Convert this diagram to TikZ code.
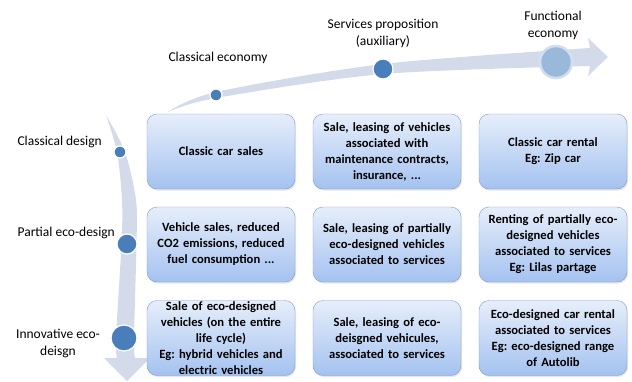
\documentclass[tikz,border=0pt]{standalone}
\usepackage{fontspec}
\setmainfont{Carlito}
\usetikzlibrary{positioning,shadows}

\definecolor{bandcol}{RGB}{211,219,234}
\definecolor{dotcol}{RGB}{74,126,187}
\definecolor{boxtop}{RGB}{230,238,250}
\definecolor{boxbot}{RGB}{164,194,240}
\definecolor{boxline}{RGB}{125,154,208}

\tikzset{
	cell/.style={rounded corners=10pt,draw=boxline,top color=boxtop,bottom color=boxbot,
		minimum width=148pt,minimum height=75pt,inner sep=0pt,text width=146pt,align=center,
		font=\frenchspacing\bfseries\fontsize{12.6}{16}\selectfont,
		drop shadow={opacity=0.2,shadow xshift=1pt,shadow yshift=-1.5pt}},
	lbl/.style={font=\fontsize{13.5}{17}\selectfont,inner sep=0pt},
	dot/.style={circle,fill=dotcol,draw=white,line width=1.2pt,inner sep=0pt}
}

\begin{document}
\begin{tikzpicture}[x=1pt,y=-1pt]

\useasboundingbox (0,0) rectangle (632,381);

%%%%%%%%%%%%%%%%%%%%%%%%%%%%%%%%%%%%%%%%%%%%%%%%%%%%%%%%%%%%%%%%
% bands

\fill [bandcol] plot [smooth] coordinates {(168,112) (216,92) (383,64) (590,48)}
	-- (588,38) -- (608,57) -- (588,76) -- (590,66)
	-- plot [smooth] coordinates {(590,66) (383,74) (216,98) (168,112)} -- cycle;

\fill [bandcol] plot [smooth] coordinates {(106,115) (117,152) (122,200) (121.5,244) (116,338) (117,358)}
	-- (104,358) -- (127,381) -- (150,358) -- (135,358)
	-- plot [smooth] coordinates {(135,358) (134,338) (136.5,244) (136,200) (125,152) (106,115)} -- cycle;

%%%%%%%%%%%%%%%%%%%%%%%%%%%%%%%%%%%%%%%%%%%%%%%%%%%%%%%%%%%%%%%%
% dots

\node [dot,minimum size=12pt] at (216,95) (e1) {};
\node [dot,minimum size=20pt] at (383,69) (e2) {};
\node [circle,fill={rgb,255:red,154;green,184;blue,218},draw={rgb,255:red,208;green,223;blue,240},
	line width=2.5pt,minimum size=32pt,inner sep=0pt] at (556,62) (e3) {};

\node [dot,minimum size=12pt] at (120,152) (d1) {};
\node [dot,minimum size=20pt] at (127,244) (d2) {};
\node [dot,minimum size=26pt] at (124,338) (d3) {};

%%%%%%%%%%%%%%%%%%%%%%%%%%%%%%%%%%%%%%%%%%%%%%%%%%%%%%%%%%%%%%%%
% labels

\node [lbl] at (218,58) (l1) {Classical economy};
\node [lbl,align=center] at (383,33) (l2) {Services proposition\\(auxiliary)};
\node [lbl,align=center] at (553,25) (l3) {Functional\\economy};

\node [lbl,anchor=east] at (102,142) (r1) {Classical design};
\node [lbl,anchor=east] at (115,233) (r2) {Partial eco-design};
\node [lbl,align=center] at (58,343) (r3) {Innovative eco-\\deisgn};

%%%%%%%%%%%%%%%%%%%%%%%%%%%%%%%%%%%%%%%%%%%%%%%%%%%%%%%%%%%%%%%%
% cells

\node [cell] at (221,151.5) (b11) {Classic car sales};
\node [cell] at (387,151.5) (b12) {Sale, leasing of vehicles\\associated with\\maintenance contracts,\\insurance, ...};
\node [cell] at (553,151.5) (b13) {Classic car rental\\Eg: Zip car};

\node [cell] at (221,244.5) (b21) {Vehicle sales, reduced\\CO2 emissions, reduced\\fuel consumption ...};
\node [cell] at (387,244.5) (b22) {Sale, leasing of partially\\eco-designed vehicles\\associated to services};
\node [cell] at (553,244.5) (b23) {Renting of partially eco-\\designed vehicles\\associated to services\\Eg: Lilas partage};

\node [cell] at (221,338) (b31) {Sale of eco-designed\\vehicles (on the entire\\life cycle)\\Eg: hybrid vehicles and\\electric vehicles};
\node [cell] at (387,338) (b32) {Sale, leasing of eco-\\deisgned vehicules,\\associated to services};
\node [cell] at (553,338) (b33) {Eco-designed car rental\\associated to services\\Eg: eco-designed range\\of Autolib};

\end{tikzpicture}
\end{document}
